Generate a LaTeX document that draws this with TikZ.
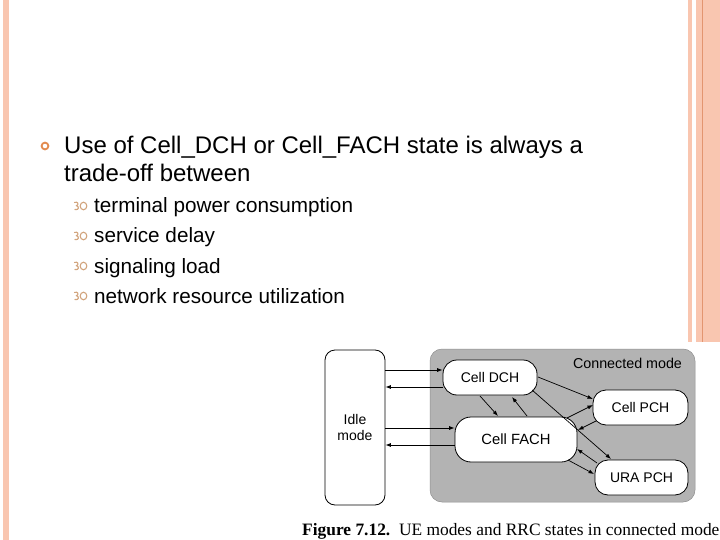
\documentclass[tikz,border=0pt]{standalone}
\usepackage{fontspec}
\setmainfont{Liberation Sans}
\newfontfamily\capfont{Liberation Serif}
\usetikzlibrary{arrows.meta}
\definecolor{salmon}{HTML}{F9C6B0}
\definecolor{salmondk}{HTML}{E39570}
\definecolor{bulorange}{HTML}{E38B4F}
\definecolor{bultan}{HTML}{D2A57E}
\definecolor{boxgray}{HTML}{B3B3B3}
\tikzset{
  bubble/.style={draw=black, fill=white, line width=0.8pt, inner sep=0pt, font=\fontsize{14}{16}\selectfont},
  arr/.style={line width=0.7pt, -{Latex[length=5.5pt,width=4pt]}},
  maintext/.style={anchor=base west, inner sep=0pt, font=\fontsize{24}{28}\selectfont},
  subtext/.style={anchor=base west, inner sep=0pt, font=\fontsize{20.7}{24}\selectfont},
  subb/.pic={\draw[bultan, line width=1.1pt, line cap=round]
     (-6.5,-3.5) .. controls (-3.5,-5) and (-1.5,-1.5) .. (-4.5,-0.3)
     .. controls (-1.5,0.5) and (-2,4.5) .. (-6,3.5);
     \draw[bultan, line width=1.1pt] (2.5,0) ellipse (3.3 and 3.8);}
}
\begin{document}
\begin{tikzpicture}[x=1pt,y=-1pt]
\useasboundingbox (0,0) rectangle (720,540);
\fill[white] (0,0) rectangle (720,540);
% side stripes
\fill[salmon] (3,0) rectangle (9,540);
\fill[salmon] (688,0) rectangle (692,342);
\fill[salmon] (696,0) rectangle (720,342);
\draw[salmondk, line width=0.8pt] (702,0) -- (702,342);
% bullets and text
\draw[bulorange, line width=1.8pt] (45,146) circle (3.4);
\node[maintext] (l1) at (64,154) {Use of Cell\_DCH or Cell\_FACH state is always a};
\node[maintext] (l2) at (64,182) {trade-off between};
\pic at (81,206) {subb};
\node[subtext] (s1) at (94,213) {terminal power consumption};
\pic at (81,236) {subb};
\node[subtext] (s2) at (94,243) {service delay};
\pic at (81,266) {subb};
\node[subtext] (s3) at (94,273) {signaling load};
\pic at (81,296) {subb};
\node[subtext] (s4) at (94,303) {network resource utilization};
% diagram
\node[draw=boxgray!80!black, fill=boxgray, line width=0.5pt, rounded corners=12pt, minimum width=265pt, minimum height=153pt, inner sep=0pt] (conn) at (562.5,425.5) {};
\node[font=\fontsize{14.3}{16}\selectfont, inner sep=0pt] (connlbl) at (627.5,363) {Connected mode};
\node[bubble, rounded corners=10pt, minimum width=60pt, minimum height=155pt, align=center, font=\fontsize{14}{16}\selectfont] (idle) at (355,427.5) {Idle\\mode};
\node[bubble, rounded corners=14pt, minimum width=94pt, minimum height=35pt] (dch) at (490,377.5) {Cell DCH};
\node[bubble, rounded corners=16pt, minimum width=122pt, minimum height=45pt, font=\fontsize{14.8}{16}\selectfont] (fach) at (516,439.5) {Cell FACH};
\node[bubble, rounded corners=13pt, minimum width=95pt, minimum height=35pt] (pch) at (640.5,407.5) {Cell PCH};
\node[bubble, rounded corners=13pt, minimum width=93pt, minimum height=35pt] (ura) at (641.5,477.5) {URA PCH};
% horizontal arrows
\coordinate (a1) at ([yshift=7.5pt]dch.west);
\coordinate (a2) at ([yshift=-9.5pt]dch.west);
\coordinate (a3) at ([yshift=11.5pt]fach.west);
\coordinate (a4) at ([yshift=-5.5pt]fach.west);
\draw[arr] (idle.east |- a1) -- (a1);
\draw[arr] (a2) -- (idle.east |- a2);
\draw[arr] (idle.east |- a3) -- (a3);
\draw[arr] (a4) -- (idle.east |- a4);
% diagonal arrows
\draw[arr] ([shift={(-10,18.5)}]dch.center) -- ([shift={(-18,-23.5)}]fach.center);
\draw[arr] ([shift={(11,-23.5)}]fach.center) -- ([shift={(22,19.5)}]dch.center);
\draw[arr] ([shift={(48,-0.5)}]dch.center) -- ([shift={(-47.5,-8.5)}]pch.center);
\draw[arr] ([shift={(42,12.5)}]dch.center) -- ([shift={(-30.5,-18.5)}]ura.center);
\draw[arr] ([shift={(51,-21.5)}]fach.center) -- ([shift={(-47.5,-2.5)}]pch.center);
\draw[arr] ([shift={(-44.5,13.5)}]pch.center) -- ([shift={(62,-9.5)}]fach.center);
\draw[arr] ([shift={(-44.5,-14.5)}]ura.center) -- ([shift={(61,9.5)}]fach.center);
\draw[arr] ([shift={(52,20.5)}]fach.center) -- ([shift={(-47.5,-3.5)}]ura.center);
% caption
\node[anchor=base west, inner sep=0pt, font=\capfont\fontsize{17.4}{20}\selectfont] (cap) at (302,535) {\textbf{Figure 7.12.}\ \ UE modes and RRC states in connected mode};
\end{tikzpicture}
\end{document}
